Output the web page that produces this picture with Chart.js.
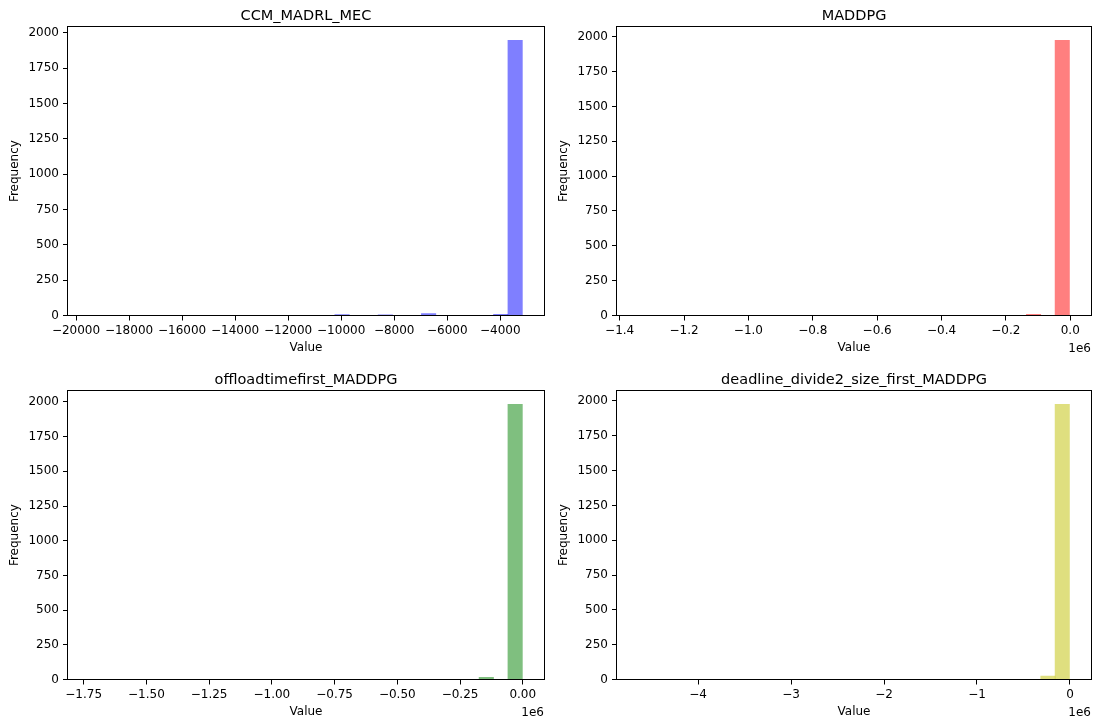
<!DOCTYPE html>
<html>
<head>
<meta charset="utf-8">
<script src="https://cdn.jsdelivr.net/npm/chart.js@4/dist/chart.umd.min.js"></script>
<style>
    html, body { margin: 0; padding: 0; background: #fff; overflow: hidden; }
    body { width: 1100px; height: 723px; position: relative; }
    canvas { position: absolute; }
</style>
</head>
<body>
<canvas id="c1" style="left:0px;top:0px;width:550px;height:359px"></canvas>
<canvas id="c2" style="left:549px;top:0px;width:551px;height:359px"></canvas>
<canvas id="c3" style="left:0px;top:364px;width:550px;height:359px"></canvas>
<canvas id="c4" style="left:549px;top:364px;width:551px;height:359px"></canvas>
<script>
// 30-bin histograms: [min, max] of the data and counts per bin
var ccmRange = [-19486, -3167];
var ccmCounts = [0, 0, 0, 0, 0, 0, 0, 0, 0, 0, 0, 0, 0, 0, 0, 0, 0, 6, 0, 0, 5, 0, 0, 13, 0, 0, 0, 0, 8, 1946];
var ccmTicks = [-20000, -18000, -16000, -14000, -12000, -10000, -8000, -6000, -4000];

var maddpgRange = [-1341300, -2500];
var maddpgCounts = [0, 0, 0, 0, 0, 0, 0, 0, 0, 0, 0, 0, 0, 0, 0, 0, 0, 0, 0, 0, 0, 0, 0, 0, 0, 0, 0, 8, 0, 1974];
var maddpgTicks = [-1.4, -1.2, -1.0, -0.8, -0.6, -0.4, -0.2, 0.0];

var offloadRange = [-1726200, -1600];
var offloadCounts = [0, 0, 0, 0, 0, 0, 0, 0, 0, 0, 0, 0, 0, 0, 0, 0, 0, 0, 0, 0, 0, 0, 0, 0, 0, 0, 0, 16, 0, 1982];
var offloadTicks = [-1.75, -1.50, -1.25, -1.00, -0.75, -0.50, -0.25, 0.00];

var deadlineRange = [-4640000, -5500];
var deadlineCounts = [0, 0, 0, 0, 0, 0, 0, 0, 0, 0, 0, 0, 0, 0, 0, 0, 0, 0, 0, 0, 0, 0, 0, 0, 0, 0, 0, 0, 24, 1975];
var deadlineTicks = [-4, -3, -2, -1, 0];

var yTicks = [0, 250, 500, 750, 1000, 1250, 1500, 1750, 2000];

Chart.defaults.font.family = '"DejaVu Sans", sans-serif';
Chart.defaults.font.size = 12;
Chart.defaults.color = '#000';

function fmt(v, digits) {
    var s = Math.abs(v).toFixed(digits);
    return (v < 0 ? '\u2212' : '') + s;
}

// frame, title and offset text, drawn like matplotlib
var axesDecor = {
    id: 'axesDecor',
    afterDraw: function(chart) {
        var o = chart.options.plugins.axesDecor;
        var a = chart.chartArea;
        var ctx = chart.ctx;
        ctx.save();
        ctx.strokeStyle = '#000';
        ctx.lineWidth = 1;
        var l = Math.round(a.left) - 0.5, t = Math.round(a.top) - 0.5;
        var r = Math.round(a.right) + 0.5, b = Math.floor(a.bottom) + 0.5;
        ctx.strokeRect(l, t, r - l, b - t);
        ctx.fillStyle = '#000';
        ctx.font = '14.5px "DejaVu Sans", sans-serif';
        ctx.textAlign = 'center';
        ctx.textBaseline = 'alphabetic';
        ctx.fillText(o.title, (a.left + a.right) / 2, a.top - 7);
        if (o.exp) {
            ctx.font = '12px "DejaVu Sans", sans-serif';
            ctx.textAlign = 'right';
            ctx.fillText(o.exp, a.right, a.bottom + 36.5);
        }
        ctx.restore();
    }
};

function makePanel(id, range, counts, xTicks, scaleDiv, digits, color, title, exp, padRight) {
    var w = (range[1] - range[0]) / counts.length;
    var span = range[1] - range[0];
    // empty bins keep their x (for bar width) but draw nothing
    var points = counts.map(function(c, i) { return { x: range[0] + (i + 0.5) * w, y: c > 0 ? c : null }; });
    var ymax = Math.max.apply(null, counts) * 1.05;
    new Chart(document.getElementById(id), {
        type: 'bar',
        data: {
            datasets: [{ data: points, backgroundColor: color, borderWidth: 0, barPercentage: 1, categoryPercentage: 1 }]
        },
        options: {
            responsive: false,
            animation: false,
            layout: { padding: { top: 26.7, right: padRight, bottom: 0, left: 0 } },
            plugins: {
                legend: { display: false },
                tooltip: { enabled: false },
                axesDecor: { title: title, exp: exp }
            },
            scales: {
                x: {
                    type: 'linear',
                    offset: false,
                    min: range[0] - 0.05 * span,
                    max: range[1] + 0.05 * span,
                    afterBuildTicks: function(s) { s.ticks = xTicks.map(function(v) { return { value: v * scaleDiv }; }); },
                    afterFit: function(s) { s.height = 43.5; },
                    ticks: {
                        autoSkip: false, maxRotation: 0, padding: 3,
                        callback: function(v) { return fmt(v / scaleDiv, digits); }
                    },
                    grid: { display: true, drawOnChartArea: false, drawTicks: true, tickLength: 5, color: '#000', offset: false },
                    border: { display: false },
                    title: { display: true, text: 'Value', padding: { top: 0, bottom: 3.8 }, font: { size: 12 } }
                },
                y: {
                    min: 0,
                    max: ymax,
                    afterBuildTicks: function(s) { s.ticks = yTicks.map(function(v) { return { value: v }; }); },
                    afterFit: function(s) { s.width = 68; },
                    ticks: { padding: 4, callback: function(v) { return String(v); } },
                    grid: { display: true, drawOnChartArea: false, drawTicks: true, tickLength: 5, color: '#000' },
                    border: { display: false },
                    title: { display: true, text: 'Frequency', padding: { top: 7.8, bottom: 0 }, font: { size: 12 } }
                }
            }
        },
        plugins: [axesDecor]
    });
}

makePanel('c1', ccmRange, ccmCounts, ccmTicks, 1, 0, 'rgba(0,0,255,0.5)', 'CCM_MADRL_MEC', null, 6);
makePanel('c2', maddpgRange, maddpgCounts, maddpgTicks, 1e6, 1, 'rgba(255,0,0,0.5)', 'MADDPG', '1e6', 9);
makePanel('c3', offloadRange, offloadCounts, offloadTicks, 1e6, 2, 'rgba(0,128,0,0.5)', 'offloadtimefirst_MADDPG', '1e6', 6);
makePanel('c4', deadlineRange, deadlineCounts, deadlineTicks, 1e6, 0, 'rgba(191,191,0,0.5)', 'deadline_divide2_size_first_MADDPG', '1e6', 9);
</script>
</body>
</html>
